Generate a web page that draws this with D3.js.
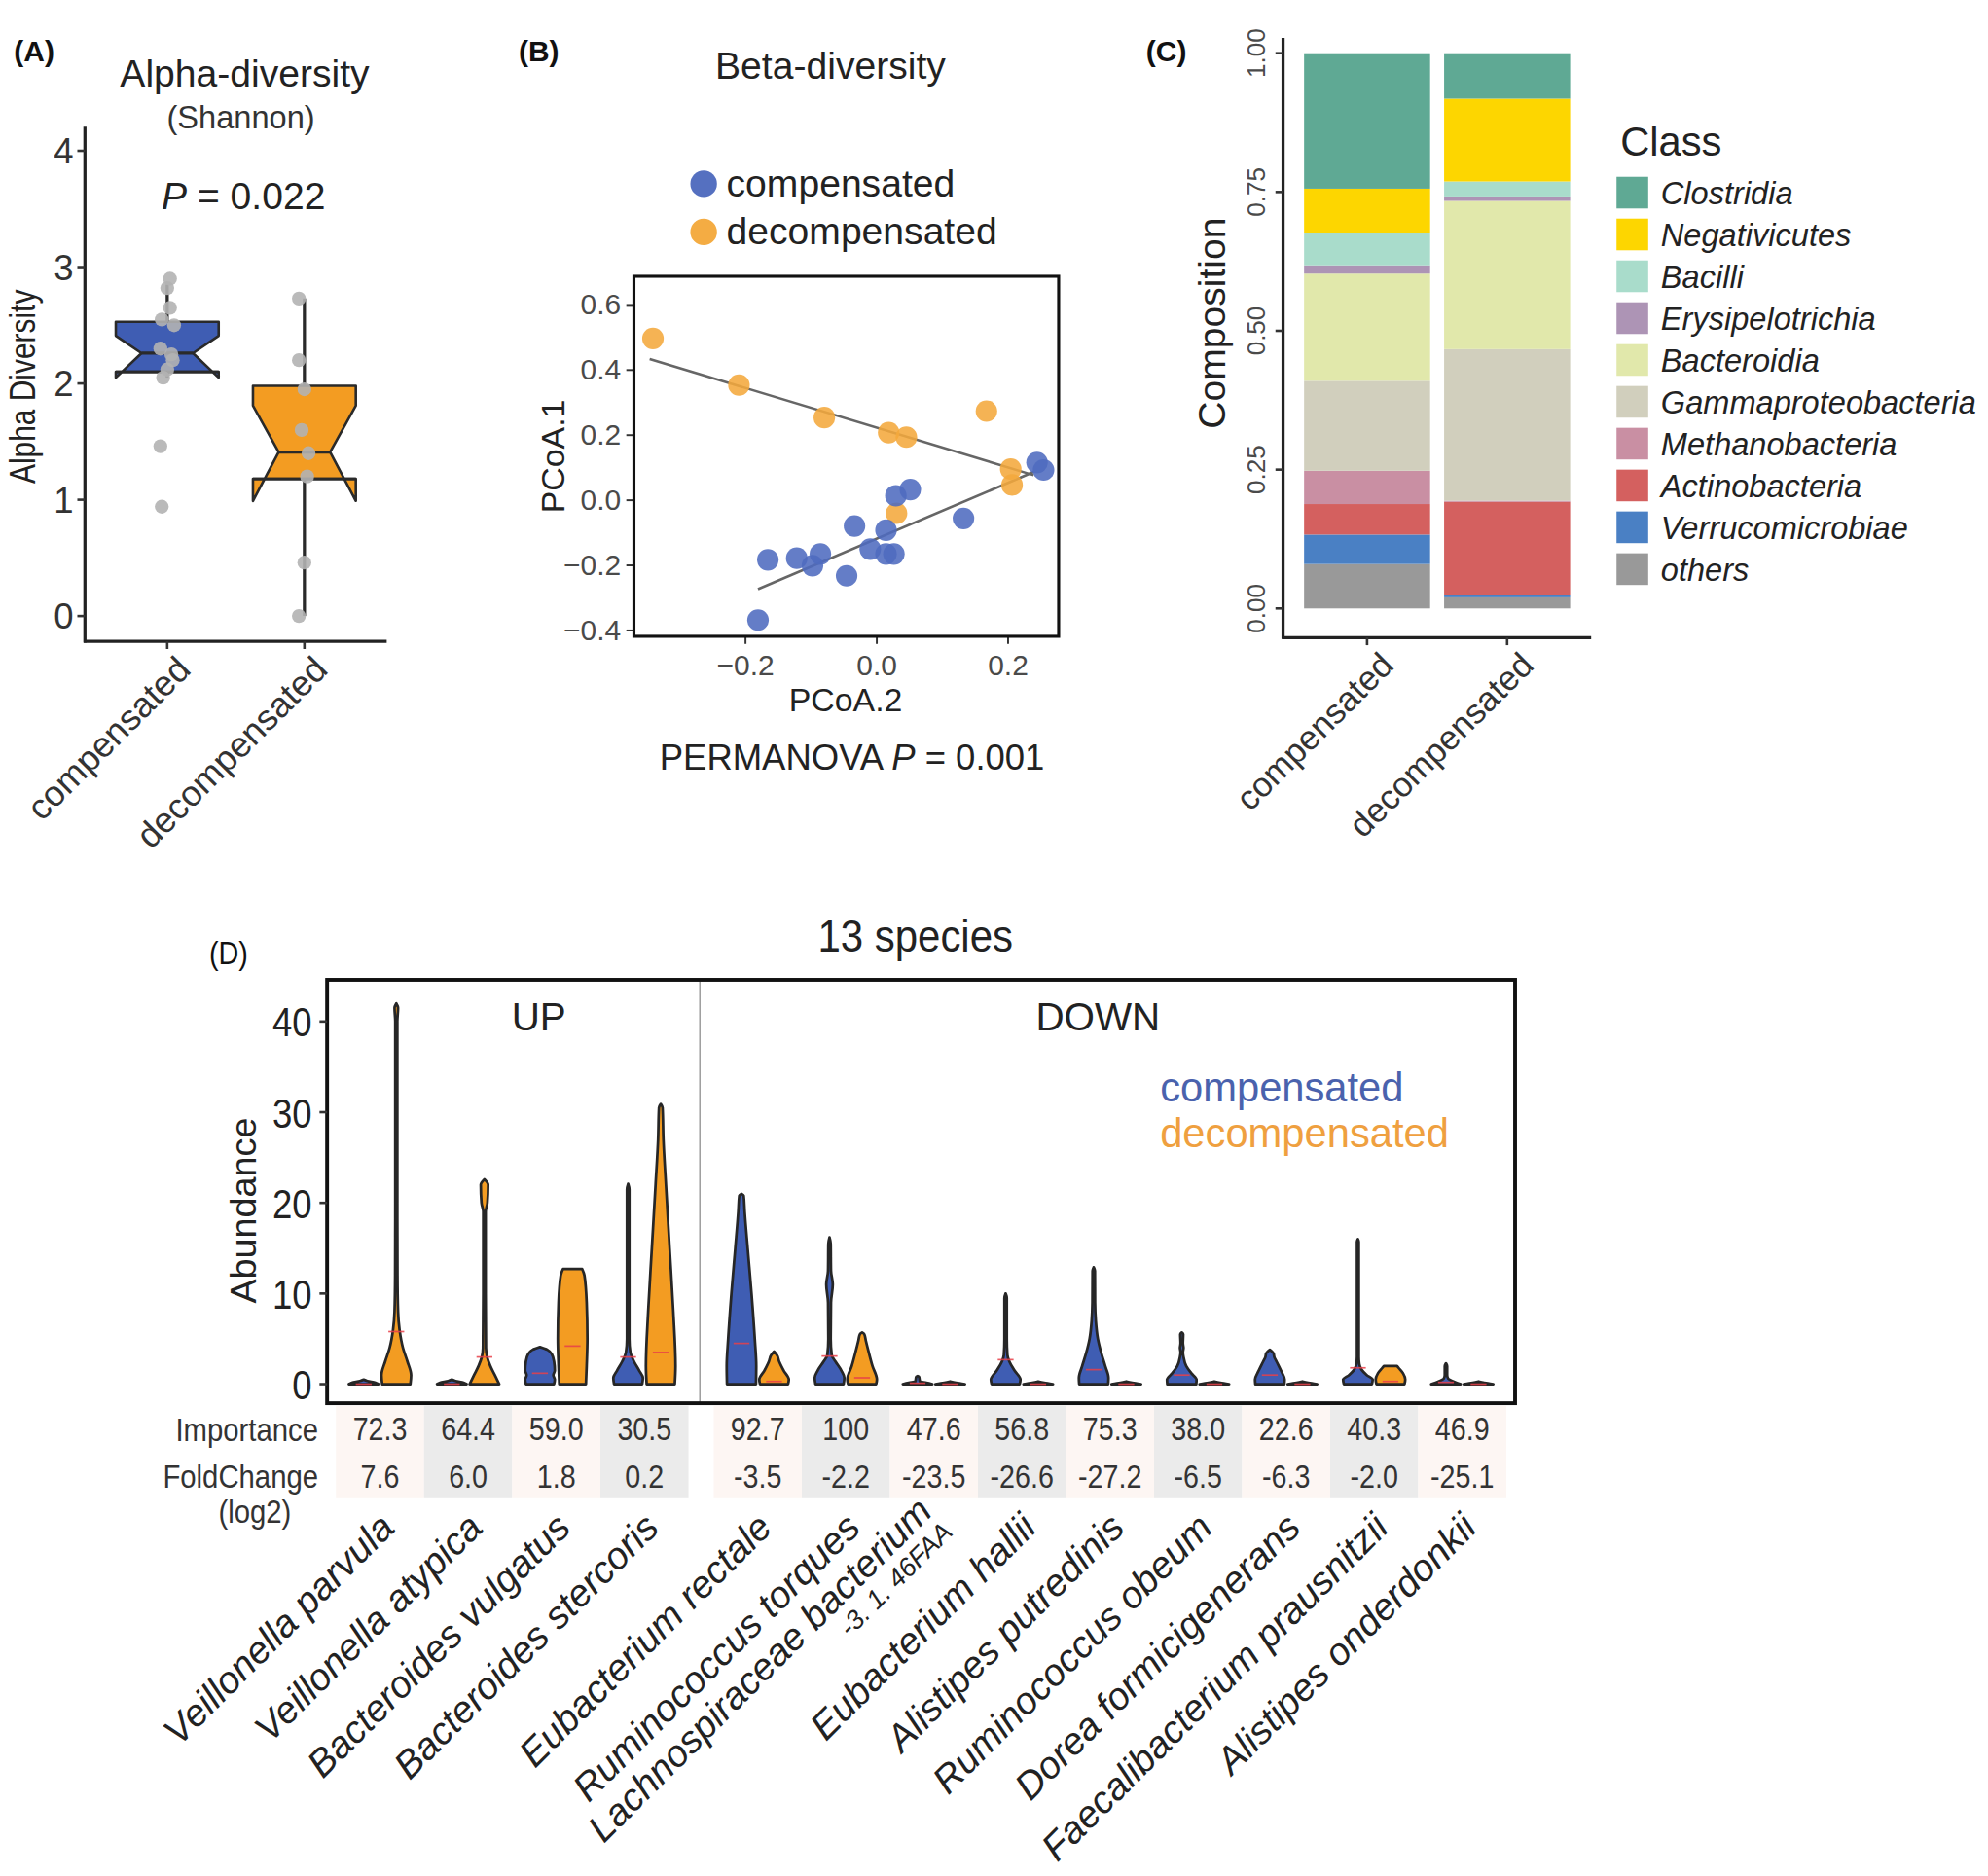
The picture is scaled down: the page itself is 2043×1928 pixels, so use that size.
<!DOCTYPE html>
<html><head><meta charset="utf-8">
<script src="https://cdn.jsdelivr.net/npm/d3@7"></script>
<style>html,body{margin:0;padding:0;background:#fff;} svg{display:block;}</style>
</head><body><svg id="c" width="2043" height="1928"></svg>
<script>
// ================= DATA =================
const groups = ["compensated", "decompensated"];
const groupFill = ["#3f5db3", "#f39c22"];

// (A) alpha diversity (Shannon)
const alphaTicks = [0, 1, 2, 3, 4];
const alphaQ1 = [2.10, 1.18];
const alphaMedian = [2.26, 1.41];
const alphaQ3 = [2.53, 1.98];
const alphaNotchLo = [2.05, 0.99];
const alphaNotchHi = [2.41, 1.81];
const alphaWhiskLo = [2.05, 0.0];
const alphaWhiskHi = [2.85, 2.73];
const alphaPtsComp = [2.90, 2.82, 2.65, 2.55, 2.50, 2.30, 2.25, 2.20, 2.12, 2.05, 1.46, 0.94];
const alphaJitComp = [0.02, 0.00, 0.02, -0.04, 0.05, -0.05, 0.03, 0.04, 0.00, -0.03, -0.05, -0.04];
const alphaPtsDec = [2.73, 2.20, 1.95, 1.60, 1.40, 1.20, 0.46, 0.00];
const alphaJitDec = [-0.04, -0.04, 0.00, -0.02, 0.03, 0.02, 0.00, -0.04];

// (B) beta diversity PCoA
const pcoaXTicks = [-0.2, 0.0, 0.2];
const pcoaYTicks = [-0.4, -0.2, 0.0, 0.2, 0.4, 0.6];
const compX = [0.245, 0.255, 0.030, 0.052, 0.133, -0.033, 0.015, -0.009, 0.015, 0.027, -0.085, -0.121, -0.097, -0.165, -0.045, -0.180];
const compY = [0.114, 0.091, 0.012, 0.031, -0.058, -0.081, -0.094, -0.152, -0.167, -0.167, -0.167, -0.180, -0.203, -0.185, -0.234, -0.370];
const decX = [-0.340, -0.209, -0.079, 0.019, 0.046, 0.168, 0.205, 0.207, 0.031];
const decY = [0.495, 0.352, 0.252, 0.206, 0.192, 0.272, 0.094, 0.045, -0.042];
const fitCompX = [-0.180, 0.240], fitCompY = [-0.275, 0.085];
const fitDecX = [-0.345, 0.240], fitDecY = [0.432, 0.075];

// (C) composition
const classes = ["Clostridia", "Negativicutes", "Bacilli", "Erysipelotrichia", "Bacteroidia", "Gammaproteobacteria", "Methanobacteria", "Actinobacteria", "Verrucomicrobiae", "others"];
const classColors = ["#5fa994", "#fdd600", "#a9dccb", "#ad94b5", "#e1e8ab", "#d1cfbd", "#c98fa3", "#d4605f", "#4a80c4", "#999999"];
const compComp = [0.244, 0.079, 0.059, 0.015, 0.193, 0.162, 0.060, 0.055, 0.053, 0.080];
const compDec = [0.082, 0.149, 0.027, 0.008, 0.267, 0.273, 0.002, 0.167, 0.005, 0.020];
const compTicks = ["0.00", "0.25", "0.50", "0.75", "1.00"];

// (D) 13 species
const species = ["Veillonella parvula", "Veillonella atypica", "Bacteroides vulgatus", "Bacteroides stercoris", "Eubacterium rectale", "Ruminococcus torques", "Lachnospiraceae bacterium|-3. 1. 46FAA", "Eubacterium hallii", "Alistipes putredinis", "Ruminococcus obeum", "Dorea formicigenerans", "Faecalibacterium prausnitzii", "Alistipes onderdonkii"];
const direction = ["UP", "UP", "UP", "UP", "DOWN", "DOWN", "DOWN", "DOWN", "DOWN", "DOWN", "DOWN", "DOWN", "DOWN"];
const importance = ["72.3", "64.4", "59.0", "30.5", "92.7", "100", "47.6", "56.8", "75.3", "38.0", "22.6", "40.3", "46.9"];
const foldChange = ["7.6", "6.0", "1.8", "0.2", "-3.5", "-2.2", "-23.5", "-26.6", "-27.2", "-6.5", "-6.3", "-2.0", "-25.1"];
const abundTicks = [0, 10, 20, 30, 40];
// violin profiles: [abundance, relative half width]
const violinComp = [
  [[0, 1], [0.15, 0.8], [0.35, 0.25], [0.5, 0]],
  [[0, 1], [0.15, 0.8], [0.35, 0.25], [0.5, 0]],
  [[0, 0.95], [0.5, 1], [1, 0.9], [1.5, 1], [2.5, 0.95], [3.3, 0.8], [3.8, 0.5], [4.1, 0]],
  [[0, 0.95], [0.7, 1], [1.5, 0.75], [2.5, 0.4], [3.5, 0.15], [5, 0.08], [21.5, 0.08], [22.1, 0]],
  [[0, 0.98], [2, 1], [5, 0.9], [10, 0.68], [15, 0.42], [19, 0.22], [20.8, 0.15], [21, 0]],
  [[0, 0.95], [0.7, 1], [1.5, 0.8], [2.5, 0.4], [3.2, 0.15], [5, 0.08], [9, 0.1], [11, 0.22], [12.5, 0.1], [15.5, 0.08], [16.2, 0]],
  [[0, 1], [0.15, 0.6], [0.3, 0.15], [0.8, 0.1], [0.9, 0]],
  [[0, 0.95], [0.5, 1], [1.5, 0.6], [2.5, 0.25], [3.2, 0.12], [5, 0.08], [9.5, 0.08], [10, 0]],
  [[0, 0.98], [0.7, 1], [2, 0.78], [3.5, 0.5], [5, 0.28], [7, 0.14], [9, 0.09], [12.5, 0.08], [12.9, 0]],
  [[0, 0.98], [0.5, 1], [1.2, 0.65], [2, 0.3], [3, 0.12], [3.5, 0.08], [4, 0.12], [4.5, 0.08], [5.5, 0.1], [5.7, 0]],
  [[0, 0.98], [0.5, 1], [1.5, 0.75], [2.5, 0.45], [3, 0.3], [3.4, 0.25], [3.8, 0]],
  [[0, 0.95], [0.5, 1], [1, 0.6], [1.6, 0.25], [2.2, 0.1], [3, 0.06], [15.7, 0.06], [16, 0]],
  [[0, 1], [0.3, 0.5], [0.6, 0.15], [1, 0.08], [2, 0.08], [2.3, 0]]
];
const violinDec = [
  [[0, 0.95], [1, 1], [2.5, 0.75], [4, 0.45], [6, 0.22], [8, 0.12], [12, 0.08], [20, 0.07], [40, 0.07], [41.5, 0.12], [42, 0]],
  [[0, 1], [1, 0.7], [2, 0.4], [3, 0.18], [4, 0.1], [10, 0.08], [19, 0.08], [20, 0.2], [22, 0.25], [22.6, 0]],
  [[0, 0.9], [2, 0.95], [5, 1], [9, 0.95], [12, 0.8], [12.7, 0.65]],
  [[0, 0.95], [2, 1], [8, 0.85], [15, 0.6], [22, 0.35], [27, 0.18], [30.5, 0.12], [30.9, 0]],
  [[0, 0.95], [0.5, 1], [1.5, 0.65], [2.5, 0.35], [3.2, 0.2], [3.6, 0]],
  [[0, 0.95], [0.5, 1], [2, 0.7], [3.5, 0.45], [4.8, 0.25], [5.5, 0.15], [5.7, 0]],
  [[0, 1], [0.15, 0.4], [0.3, 0]],
  [[0, 1], [0.15, 0.4], [0.3, 0]],
  [[0, 1], [0.15, 0.4], [0.3, 0]],
  [[0, 1], [0.15, 0.4], [0.3, 0]],
  [[0, 1], [0.15, 0.4], [0.3, 0]],
  [[0, 0.95], [0.5, 1], [1.2, 0.85], [1.8, 0.55], [2.0, 0.45]],
  [[0, 1], [0.15, 0.4], [0.3, 0]]
];
const meanComp = [0, 0, 1.2, 3.0, 4.5, 3.1, 0.1, 2.7, 1.6, 1.0, 1.0, 1.8, 0.2];
const meanDec = [5.8, 3.0, 4.2, 3.5, 0.3, 0.7, 0, 0, 0, 0, 0, 0.3, 0];

// ================= DRAW =================
const FONT = "'Liberation Sans', Arial, Helvetica, sans-serif";
const svg = d3.select("#c").attr("font-family", FONT);
svg.append("rect").attr("width", 2043).attr("height", 1928).attr("fill", "#fff");
const root = svg.append("g").attr("transform", `scale(${2043 / 1568},${1928 / 1480})`);

function txt(parent, x, y, s, o = {}) {
  const g = parent.append("g").attr("transform", `translate(${x},${y}) rotate(${o.rot || 0}) scale(${o.sx || 1},1)`);
  const t = g.append("text").text(s)
    .attr("font-size", o.size || 20)
    .attr("text-anchor", o.anchor || "start")
    .attr("fill", o.color || "#222");
  if (o.weight) t.attr("font-weight", o.weight);
  if (o.italic) t.attr("font-style", "italic");
  if (o.dy) t.attr("dy", o.dy);
  return t;
}

// ---------- Panel A ----------
(function () {
  const g = root.append("g");
  txt(g, 11, 48, "(A)", { size: 23, weight: "bold", color: "#111" });
  txt(g, 193, 68, "Alpha-diversity", { size: 30, anchor: "middle" });
  txt(g, 190, 101, "(Shannon)", { size: 25, anchor: "middle", color: "#333" });
  const x = d3.scaleLinear().domain([0.4, 2.6]).range([67, 305]);
  const y = d3.scaleLinear().domain([0, 4]).range([486, 119]);
  g.append("line").attr("x1", 67).attr("x2", 67).attr("y1", 100).attr("y2", 507).attr("stroke", "#222").attr("stroke-width", 2.5);
  g.append("line").attr("x1", 66).attr("x2", 305).attr("y1", 506).attr("y2", 506).attr("stroke", "#222").attr("stroke-width", 2.5);
  alphaTicks.forEach(t => {
    g.append("line").attr("x1", 61).attr("x2", 67).attr("y1", y(t)).attr("y2", y(t)).attr("stroke", "#333").attr("stroke-width", 2);
    txt(g, 58, y(t) + 10, String(t), { size: 28, anchor: "end", color: "#333" });
  });
  txt(g, 28, 305, "Alpha Diversity", { size: 28, anchor: "middle", rot: -90, sx: 0.82 });
  const pt = g.append("text").attr("x", 192).attr("y", 165).attr("text-anchor", "middle").attr("font-size", 30).attr("fill", "#222");
  pt.append("tspan").attr("font-style", "italic").text("P");
  pt.append("tspan").text(" = 0.022");
  groups.forEach((gr, i) => {
    const cx = x(i + 1);
    g.append("line").attr("x1", cx).attr("x2", cx).attr("y1", 506).attr("y2", 512).attr("stroke", "#333").attr("stroke-width", 2);
    txt(g, cx + 6, 516, gr, { size: 28, anchor: "end", rot: -45, color: "#333", dy: "0.7em" });
    g.append("line").attr("x1", cx).attr("x2", cx).attr("y1", y(alphaWhiskLo[i])).attr("y2", y(alphaWhiskHi[i])).attr("stroke", "#2a2a2a").attr("stroke-width", 2.5);
    const w = 0.75, xmin = x(i + 1 - w / 2), xmax = x(i + 1 + w / 2), ind = (xmax - xmin) * 0.25;
    const poly = [[xmin, y(alphaQ3[i])], [xmin, y(alphaNotchHi[i])], [xmin + ind, y(alphaMedian[i])], [xmin, y(alphaNotchLo[i])], [xmin, y(alphaQ1[i])],
      [xmax, y(alphaQ1[i])], [xmax, y(alphaNotchLo[i])], [xmax - ind, y(alphaMedian[i])], [xmax, y(alphaNotchHi[i])], [xmax, y(alphaQ3[i])]];
    g.append("path").attr("d", d3.line()(poly) + "Z").attr("fill", groupFill[i]).attr("stroke", "#2a2a2a").attr("stroke-width", 2).attr("stroke-linejoin", "round");
    g.append("line").attr("x1", xmin + ind).attr("x2", xmax - ind).attr("y1", y(alphaMedian[i])).attr("y2", y(alphaMedian[i])).attr("stroke", "#2a2a2a").attr("stroke-width", 2.5);
    g.append("line").attr("x1", xmin).attr("x2", xmax).attr("y1", y(alphaQ1[i])).attr("y2", y(alphaQ1[i])).attr("stroke", "#2a2a2a").attr("stroke-width", 2);
  });
  [[alphaPtsComp, alphaJitComp, 1], [alphaPtsDec, alphaJitDec, 2]].forEach(([vals, jit, k]) => {
    g.selectAll(null).data(vals).enter().append("circle")
      .attr("cx", (d, j) => x(k + jit[j])).attr("cy", d => y(d)).attr("r", 5.5)
      .attr("fill", "#b3b3b3").attr("opacity", 0.9);
  });
})();

// ---------- Panel B ----------
(function () {
  const g = root.append("g");
  txt(g, 409, 48, "(B)", { size: 23, weight: "bold", color: "#111" });
  txt(g, 655, 62, "Beta-diversity", { size: 30, anchor: "middle" });
  [["compensated", 145], ["decompensated", 183]].forEach(([l, yy], i) => {
    g.append("circle").attr("cx", 555).attr("cy", yy).attr("r", 10.5).attr("fill", i ? "#f4ac43" : "#5570c0");
    txt(g, 573, yy + 10, l, { size: 30 });
  });
  const x = d3.scaleLinear().domain([-0.369, 0.278]).range([500, 835]);
  const y = d3.scaleLinear().domain([-0.42, 0.686]).range([502, 218]);
  const xa = d3.axisBottom(x).tickValues(pcoaXTicks).tickSize(6).tickFormat(d3.format(".1f"));
  const ya = d3.axisLeft(y).tickValues(pcoaYTicks).tickSize(6).tickFormat(d3.format(".1f"));
  const gx = g.append("g").attr("transform", "translate(0,502)").call(xa);
  const gy = g.append("g").attr("transform", "translate(500,0)").call(ya);
  [gx, gy].forEach(a => {
    a.select(".domain").remove();
    a.selectAll("line").attr("stroke", "#333").attr("stroke-width", 1.5);
    a.selectAll("text").attr("font-size", 23).attr("fill", "#4a4a4a").attr("font-family", FONT);
  });
  gx.selectAll("text").attr("dy", "0.95em");
  gy.selectAll("text").attr("dx", "-0.05em");
  [[fitDecX, fitDecY], [fitCompX, fitCompY]].forEach(([fx, fy]) => {
    g.append("line").attr("x1", x(fx[0])).attr("y1", y(fy[0])).attr("x2", x(fx[1])).attr("y2", y(fy[1])).attr("stroke", "#666").attr("stroke-width", 2);
  });
  g.selectAll(null).data(decX).enter().append("circle").attr("cx", d => x(d)).attr("cy", (d, i) => y(decY[i])).attr("r", 8.5).attr("fill", "#f4a93c").attr("opacity", 0.88);
  g.selectAll(null).data(compX).enter().append("circle").attr("cx", d => x(d)).attr("cy", (d, i) => y(compY[i])).attr("r", 8.5).attr("fill", "#4f6bbf").attr("opacity", 0.88);
  g.append("rect").attr("x", 500).attr("y", 218).attr("width", 335).attr("height", 284).attr("fill", "none").attr("stroke", "#111").attr("stroke-width", 2.4);
  txt(g, 667, 561, "PCoA.2", { size: 26, anchor: "middle" });
  txt(g, 445, 360, "PCoA.1", { size: 26, anchor: "middle", rot: -90 });
  const pt = g.append("text").attr("x", 672).attr("y", 607).attr("text-anchor", "middle").attr("font-size", 28).attr("fill", "#222");
  pt.append("tspan").text("PERMANOVA ");
  pt.append("tspan").attr("font-style", "italic").text("P");
  pt.append("tspan").text(" = 0.001");
})();

// ---------- Panel C ----------
(function () {
  const g = root.append("g");
  txt(g, 904, 48, "(C)", { size: 23, weight: "bold", color: "#111" });
  const x = d3.scaleLinear().domain([0.4, 2.6]).range([1012, 1255]);
  const y = d3.scaleLinear().domain([0, 1]).range([480, 42]);
  [compComp, compDec].forEach((vals, i) => {
    let acc = 0;
    for (let k = classes.length - 1; k >= 0; k--) {
      const v = vals[k];
      g.append("rect").attr("x", x(i + 1 - 0.45)).attr("width", x(i + 1 + 0.45) - x(i + 1 - 0.45))
        .attr("y", y(acc + v)).attr("height", y(acc) - y(acc + v)).attr("fill", classColors[k]);
      acc += v;
    }
  });
  g.append("line").attr("x1", 1012).attr("x2", 1012).attr("y1", 30).attr("y2", 504).attr("stroke", "#222").attr("stroke-width", 2.5);
  g.append("line").attr("x1", 1011).attr("x2", 1255).attr("y1", 503).attr("y2", 503).attr("stroke", "#222").attr("stroke-width", 2.5);
  compTicks.forEach(t => {
    const yy = y(+t);
    g.append("line").attr("x1", 1006).attr("x2", 1012).attr("y1", yy).attr("y2", yy).attr("stroke", "#333").attr("stroke-width", 2);
    txt(g, 998, yy, t, { size: 20, anchor: "middle", rot: -90, color: "#4a4a4a" });
  });
  txt(g, 966, 255, "Composition", { size: 30, anchor: "middle", rot: -90 });
  groups.forEach((gr, i) => {
    const cx = x(i + 1);
    g.append("line").attr("x1", cx).attr("x2", cx).attr("y1", 503).attr("y2", 509).attr("stroke", "#333").attr("stroke-width", 2);
    txt(g, cx + 9, 513, gr, { size: 27, anchor: "end", rot: -45, color: "#333", dy: "0.7em" });
  });
  txt(g, 1278, 123, "Class", { size: 32 });
  classes.forEach((c, k) => {
    const yy = 152 + k * 33;
    g.append("rect").attr("x", 1275).attr("y", yy - 12.5).attr("width", 25).attr("height", 25).attr("fill", classColors[k]);
    txt(g, 1310, yy + 9, c, { size: 25, italic: true });
  });
})();

// ---------- Panel D ----------
(function () {
  const g = root.append("g");
  txt(g, 165, 761, "(D)", { size: 26, color: "#111", sx: 0.85 });
  txt(g, 722, 751, "13 species", { size: 35, anchor: "middle", sx: 0.92 });
  const xUp = d3.scaleLinear().domain([0.4, 4.6]).range([258, 550]);
  const xDown = d3.scaleLinear().domain([4.4, 13.6]).range([556, 1195]);
  const xD = (i, off) => (direction[i] === "UP" ? xUp : xDown)(i + 1 + off);
  const y = d3.scaleLinear().domain([-2.1, 44.6]).range([1107, 773]);
  const hw = 0.168, dodge = 0.185;
  species.forEach((s, i) => {
    g.append("rect").attr("x", xD(i, -0.5)).attr("width", xD(i, 0.5) - xD(i, -0.5)).attr("y", 1109).attr("height", 73)
      .attr("fill", i % 2 ? "#ebebeb" : "#fdf6f3");
  });
  g.append("line").attr("x1", 552).attr("x2", 552).attr("y1", 773).attr("y2", 1107).attr("stroke", "#a0a0a0").attr("stroke-width", 1.2);
  txt(g, 425, 813, "UP", { size: 31, anchor: "middle" });
  txt(g, 866, 813, "DOWN", { size: 31, anchor: "middle" });
  txt(g, 915, 869, "compensated", { size: 32, color: "#4a62ad" });
  txt(g, 915, 905, "decompensated", { size: 32, color: "#efa03f" });
  const area = d3.area().curve(d3.curveMonotoneY);
  function violin(prof, i, off, fill) {
    const cx = xD(i, off), half = xD(i, off + hw) - cx;
    area.y(d => y(d[0])).x0(d => cx - half * d[1]).x1(d => cx + half * d[1]);
    g.append("path").attr("d", area(prof)).attr("fill", fill).attr("stroke", "#262626").attr("stroke-width", 2.1).attr("stroke-linejoin", "round");
  }
  species.forEach((s, i) => {
    violin(violinComp[i], i, -dodge, groupFill[0]);
    violin(violinDec[i], i, dodge, groupFill[1]);
    [[meanComp[i], -dodge], [meanDec[i], dodge]].forEach(([m, off]) => {
      g.append("line").attr("x1", xD(i, off - 0.09)).attr("x2", xD(i, off + 0.09)).attr("y1", y(m)).attr("y2", y(m)).attr("stroke", "#e8404a").attr("stroke-width", 1.3).attr("opacity", 0.85);
    });
  });
  g.append("rect").attr("x", 258).attr("y", 773).attr("width", 937).attr("height", 334).attr("fill", "none").attr("stroke", "#111").attr("stroke-width", 3);
  abundTicks.forEach(t => {
    g.append("line").attr("x1", 252).attr("x2", 258).attr("y1", y(t)).attr("y2", y(t)).attr("stroke", "#333").attr("stroke-width", 2);
    txt(g, 246, y(t) + 12, String(t), { size: 33, anchor: "end", sx: 0.85, color: "#222" });
  });
  txt(g, 202, 955, "Abundance", { size: 29, anchor: "middle", rot: -90 });
  txt(g, 251, 1137, "Importance", { size: 25, anchor: "end", sx: 0.9, color: "#333" });
  txt(g, 251, 1174, "FoldChange", { size: 25, anchor: "end", sx: 0.9, color: "#333" });
  txt(g, 201, 1201, "(log2)", { size: 25, anchor: "middle", sx: 0.9, color: "#333" });
  species.forEach((s, i) => {
    const cx = xD(i, 0);
    txt(g, cx, 1136, importance[i], { size: 25, anchor: "middle", sx: 0.88, color: "#333" });
    txt(g, cx, 1174, foldChange[i], { size: 25, anchor: "middle", sx: 0.88, color: "#333" });
    const parts = s.split("|");
    const t = txt(g, cx - 2, 1192, parts[0], { size: 30, anchor: "end", rot: -45, italic: true, color: "#222", dy: "0.7em" });
    if (parts[1]) {
      t.attr("dy", "0.1em");
      txt(g, cx - 2, 1192, parts[1], { size: 21, anchor: "end", rot: -45, italic: true, color: "#222", dy: "1.2em" });
    }
  });
})();
</script></body></html>
